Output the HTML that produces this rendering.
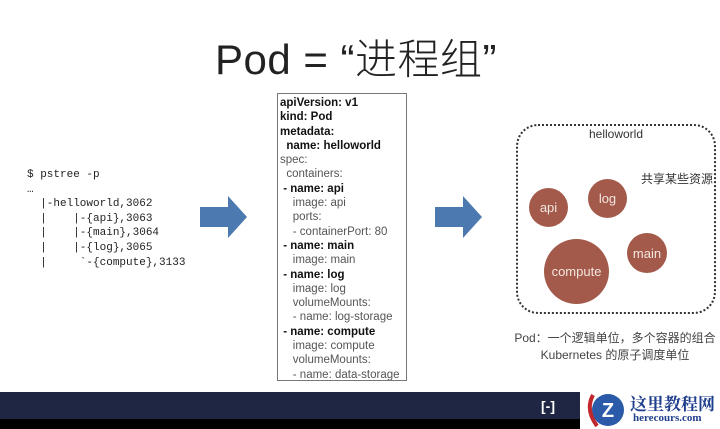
<!DOCTYPE html>
<html><head><meta charset="utf-8"><style>
body{margin:0;width:720px;height:429px;overflow:hidden;background:#fff;position:relative;font-family:"Liberation Sans","Noto Sans CJK SC",sans-serif}
.a{position:absolute}
#title{left:0;width:712px;top:32px;text-align:center;font-size:42px;font-weight:300;color:#222;line-height:56px;letter-spacing:0.5px}
#ps{left:27px;top:168px;font-family:"Liberation Mono",monospace;font-size:11px;line-height:14.6px;color:#222;white-space:pre}
#y{left:277px;top:93px;width:130px;height:288px;border:1px solid #777;box-sizing:border-box;font-size:11.5px;line-height:14.3px;color:#555;white-space:pre;padding-top:2px;padding-left:2px;overflow:hidden}
#y b{color:#111}
.c{position:absolute;border-radius:50%;background:#a35a4b;color:#f3e6e0;display:flex;align-items:center;justify-content:center;font-size:13px}
#box{left:516px;top:124px;width:200px;height:190px;border:2.5px dotted #333;border-radius:22px;box-sizing:border-box}
</style></head><body>
<div class="a" id="title">Pod = “进程组”</div>
<div class="a" id="ps">$ pstree -p
…
  |-helloworld,3062
  |    |-{api},3063
  |    |-{main},3064
  |    |-{log},3065
  |     `-{compute},3133</div>
<svg class="a" style="left:0;top:0" width="720" height="429">
<polygon points="200,207 228,207 228,196 247,217 228,238 228,227 200,227" fill="#4c79b0"/>
<polygon points="435,207 463,207 463,196 482,217 463,238 463,227 435,227" fill="#4c79b0"/>
</svg>
<div class="a" id="y"><b>apiVersion: v1
kind: Pod
metadata:
  name: helloworld</b>
spec:
  containers:
 <b>- name: api</b>
    image: api
    ports:
    - containerPort: 80
 <b>- name: main</b>
    image: main
 <b>- name: log</b>
    image: log
    volumeMounts:
    - name: log-storage
 <b>- name: compute</b>
    image: compute
    volumeMounts:
    - name: data-storage</div>
<div class="a" id="box"></div>
<div class="a" style="left:516px;width:200px;top:127px;text-align:center;font-size:12px;color:#333">helloworld</div>
<div class="a" style="left:641px;top:170px;font-size:12px;color:#333">共享某些资源</div>
<div class="c" style="left:529px;top:188px;width:39px;height:39px">api</div>
<div class="c" style="left:588px;top:179px;width:39px;height:39px">log</div>
<div class="c" style="left:544px;top:239px;width:65px;height:65px">compute</div>
<div class="c" style="left:627px;top:233px;width:40px;height:40px">main</div>
<div class="a" style="left:500px;width:230px;top:330px;text-align:center;font-size:12px;line-height:17px;color:#444">Pod：一个逻辑单位，多个容器的组合<br>Kubernetes 的原子调度单位</div>
<div class="a" style="left:0;top:392px;width:720px;height:27px;background:#1f2644"></div>
<div class="a" style="left:0;top:419px;width:720px;height:10px;background:#000"></div>
<div class="a" style="left:541px;top:398px;color:#fff;font-size:14px;font-weight:bold">[-]</div>
<div class="a" style="left:580px;top:389px;width:140px;height:40px;background:#fff"></div>
<svg class="a" style="left:583px;top:390px" width="45" height="39"><circle cx="25" cy="20" r="16" fill="#2a5aa8"/><text x="25" y="27" text-anchor="middle" font-size="20" font-weight="bold" fill="#fff" font-family="Liberation Sans">Z</text><path d="M10,5 Q2,20 14,36" stroke="#c0282e" stroke-width="4" fill="none"/></svg>
<div class="a" style="left:630px;top:390px;font-family:'Noto Serif CJK SC',serif;font-weight:bold;font-size:17px;color:#1f3e8c">这里教程网</div>
<div class="a" style="left:633px;top:412px;font-family:'Liberation Serif',serif;font-weight:bold;font-size:11px;color:#1f3e8c">herecours.com</div>
</body></html>
